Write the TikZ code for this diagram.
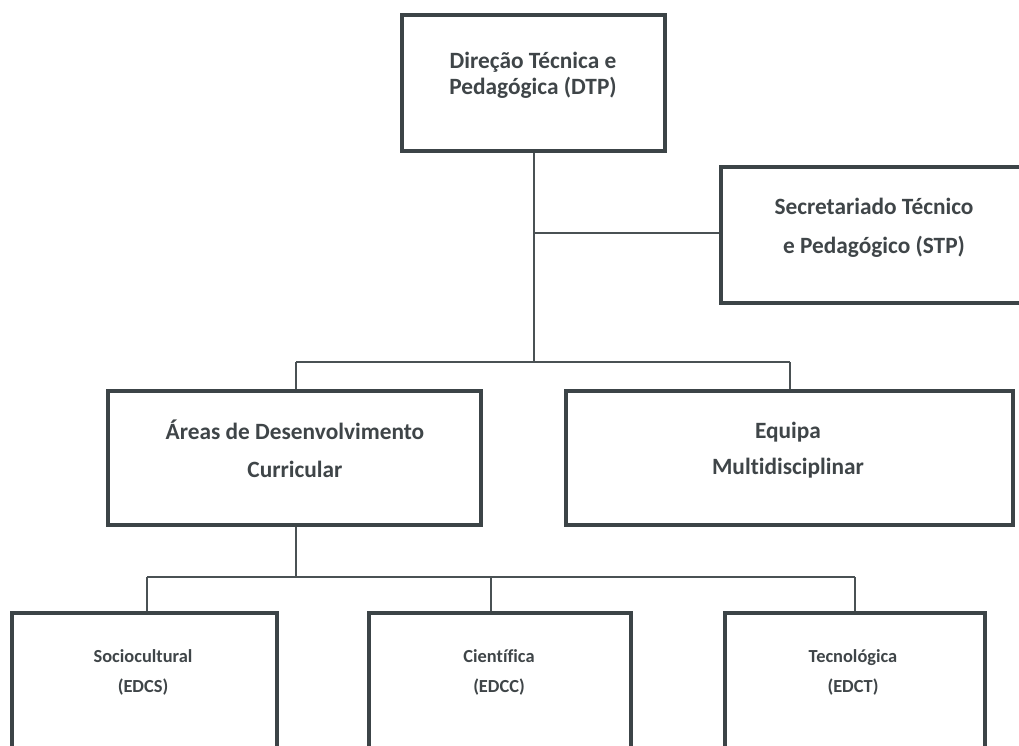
\documentclass[tikz,border=0pt]{standalone}
\usepackage{fontspec}
\setmainfont{Carlito}[Ligatures=NoCommon]
\definecolor{boxc}{HTML}{3C4447}
\definecolor{txtc}{HTML}{3F4548}
\definecolor{linec}{HTML}{4A5154}
\begin{document}
\begin{tikzpicture}[x=0.75pt,y=-0.75pt,
  box/.style={draw=boxc, line width=3pt, fill=white, rectangle, inner sep=0pt},
  bigtxt/.style={text=txtc, font=\bfseries\fontsize{17.5}{20}\selectfont, align=center, inner sep=0pt},
  smalltxt/.style={text=txtc, font=\bfseries\fontsize{13.8}{22.5}\selectfont, align=center, inner sep=0pt},
  conn/.style={draw=linec, line width=1.1pt}]
\useasboundingbox (0,0) rectangle (1019,745);
\clip (0,0) rectangle (1019,745);
\fill[white] (0,0) rectangle (1019,745);
% coordinates for connector junctions
\coordinate (jstp) at (534,233);
\coordinate (jmid) at (534,362);
\coordinate (jmidL) at (296,362);
\coordinate (jmidR) at (790,362);
\coordinate (jbot) at (296,577);
\coordinate (jbotL) at (147,577);
\coordinate (jbotM) at (491,577);
\coordinate (jbotR) at (855,577);
% boxes
\node[box, minimum width={263*0.75pt}, minimum height={136*0.75pt}] (dtp) at (533.5,83) {};
\node[box, minimum width={306*0.75pt}, minimum height={136*0.75pt}] (stp) at (874,235) {};
\node[box, minimum width={373*0.75pt}, minimum height={134*0.75pt}] (adc) at (294.5,458) {};
\node[box, minimum width={447*0.75pt}, minimum height={134*0.75pt}] (eq) at (789.5,458) {};
\node[box, minimum width={265*0.75pt}, minimum height={136*0.75pt}] (soc) at (144.5,680.5) {};
\node[box, minimum width={262*0.75pt}, minimum height={136*0.75pt}] (cie) at (500,680.5) {};
\node[box, minimum width={260*0.75pt}, minimum height={136*0.75pt}] (tec) at (855,680.5) {};
% connectors
\draw[conn] (dtp.south -| jmid) -- (jmid);
\draw[conn] (jstp) -- (stp.west |- jstp);
\draw[conn] (jmidL) -- (jmidR);
\draw[conn] (jmidL) -- (adc.north -| jmidL);
\draw[conn] (jmidR) -- (eq.north -| jmidR);
\draw[conn] (adc.south -| jbot) -- (jbot);
\draw[conn] (jbotL) -- (jbotR);
\draw[conn] (jbotL) -- (soc.north -| jbotL);
\draw[conn] (jbotM) -- (cie.north -| jbotM);
\draw[conn] (jbotR) -- (tec.north -| jbotR);
% texts
\node[bigtxt, font=\bfseries\fontsize{17.5}{19.5}\selectfont] (dtptxt) at (533,75) {Direção Técnica e\\Pedagógica (DTP)};
\node[bigtxt, font=\bfseries\fontsize{17.5}{29}\selectfont] (stptxt) at (874,228) {Secretariado Técnico\\e Pedagógico (STP)};
\node[bigtxt, font=\bfseries\fontsize{17.5}{28.5}\selectfont] (adctxt) at (295,449) {Áreas de Desenvolvimento\\Curricular};
\node[bigtxt, font=\bfseries\fontsize{17.5}{27.5}\selectfont] (eqtxt) at (788,450) {Equipa\\Multidisciplinar};
\node[smalltxt] (soctxt) at (143,672) {Sociocultural\\(EDCS)};
\node[smalltxt] (cietxt) at (499,672) {Científica\\(EDCC)};
\node[smalltxt] (tectxt) at (853,672) {Tecnológica\\(EDCT)};
\end{tikzpicture}
\end{document}
